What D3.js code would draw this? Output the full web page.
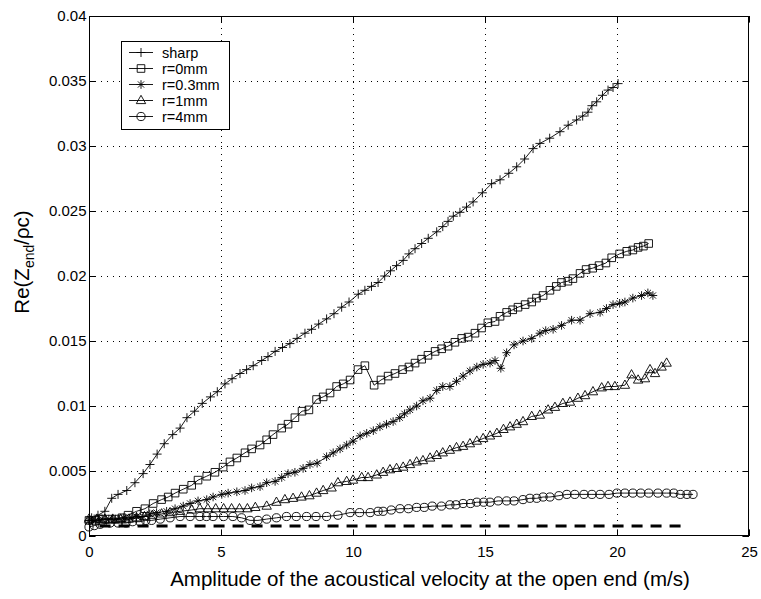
<!DOCTYPE html>
<html>
<head>
<meta charset="utf-8">
<script src="https://cdn.jsdelivr.net/npm/d3@7/dist/d3.min.js"></script>
<style>
html,body{margin:0;padding:0;background:#fff;}
svg{display:block;}
text{font-family:"Liberation Sans",Arial,Helvetica,sans-serif;fill:#000;}
</style>
</head>
<body>
<svg id="chart" width="761" height="599"></svg>
<script>
const xTicks = [0, 5, 10, 15, 20, 25];
const yTicks = [0, 0.005, 0.01, 0.015, 0.02, 0.025, 0.03, 0.035, 0.04];
const seriesNames = ["sharp", "r=0mm", "r=0.3mm", "r=1mm", "r=4mm"];
const seriesMarkers = ["plus", "square", "star", "triangle", "circle"];

const sharpX = [0.0,0.1,0.34,0.6,0.86,1.1,1.43,1.74,2.05,2.31,2.58,2.85,3.17,3.45,3.71,4.0,4.29,4.6,4.86,5.15,5.42,5.72,5.97,6.22,6.54,6.78,7.05,7.33,7.61,7.88,8.18,8.43,8.7,9.0,9.28,9.57,9.85,10.2,10.45,10.7,10.95,11.2,11.42,11.65,11.9,12.12,12.35,12.6,12.85,13.17,13.4,13.6,13.8,14.05,14.3,14.55,14.9,15.25,15.57,15.9,16.2,16.5,16.82,17.08,17.45,17.84,18.15,18.47,18.7,18.9,19.05,19.23,19.45,19.66,19.85,20.04];
const sharpY = [0.0012,0.0014,0.0016,0.0019,0.0029,0.0032,0.0035,0.0041,0.0048,0.0055,0.0063,0.0071,0.0078,0.0083,0.0091,0.0096,0.0102,0.0107,0.0111,0.0117,0.0121,0.0125,0.0128,0.0131,0.0135,0.0138,0.0142,0.0145,0.0148,0.0152,0.0156,0.0159,0.0163,0.0167,0.0171,0.0176,0.0180,0.0186,0.0189,0.0192,0.0195,0.0200,0.0204,0.0208,0.0212,0.0217,0.0221,0.0225,0.0229,0.0234,0.0238,0.0242,0.0246,0.0249,0.0253,0.0257,0.0264,0.0271,0.0274,0.0279,0.0284,0.0290,0.0298,0.0302,0.0306,0.0311,0.0316,0.0320,0.0323,0.0326,0.0331,0.0334,0.0339,0.0343,0.0345,0.0348];

const r0X = [0.0,0.25,0.5,0.75,1.0,1.25,1.48,1.8,2.12,2.43,2.75,3.0,3.26,3.57,3.89,4.13,4.46,4.77,5.08,5.34,5.6,5.91,6.16,6.48,6.73,6.97,7.3,7.54,7.8,8.07,8.33,8.62,8.87,9.13,9.38,9.63,9.89,10.19,10.45,10.8,11.06,11.33,11.59,11.88,12.12,12.35,12.6,12.84,13.11,13.36,13.6,13.86,14.12,14.36,14.62,14.87,15.11,15.38,15.57,15.82,16.05,16.25,16.52,16.77,16.95,17.2,17.46,17.7,17.9,18.14,18.33,18.6,18.83,19.08,19.32,19.58,19.8,20.1,20.37,20.6,20.8,21.0,21.2];
const r0Y = [0.0012,0.0012,0.0013,0.0013,0.0013,0.0014,0.0016,0.0019,0.0021,0.0025,0.0028,0.0030,0.0033,0.0036,0.0039,0.0043,0.0046,0.0049,0.0053,0.0057,0.0060,0.0064,0.0067,0.0070,0.0074,0.0078,0.0083,0.0086,0.0091,0.0096,0.0097,0.0105,0.0107,0.0110,0.0115,0.0117,0.0120,0.0128,0.0131,0.0116,0.0120,0.0123,0.0125,0.0128,0.0130,0.0133,0.0136,0.0139,0.0142,0.0144,0.0146,0.0149,0.0152,0.0153,0.0156,0.0160,0.0164,0.0165,0.0169,0.0172,0.0174,0.0176,0.0178,0.0180,0.0183,0.0185,0.0189,0.0192,0.0195,0.0196,0.0198,0.0202,0.0205,0.0206,0.0208,0.0210,0.0214,0.0217,0.0219,0.0220,0.0222,0.0223,0.0225];

const r03X = [0.0,0.25,0.5,0.75,1.0,1.3,1.55,1.8,2.05,2.3,2.56,2.94,3.26,3.57,3.83,4.13,4.46,4.7,5.03,5.27,5.6,5.91,6.16,6.48,6.73,7.05,7.3,7.54,7.8,8.11,8.37,8.64,9.0,9.25,9.51,9.76,10.0,10.27,10.52,10.77,11.02,11.27,11.52,11.77,11.95,12.16,12.41,12.65,12.92,13.17,13.4,13.67,13.92,14.17,14.43,14.69,14.93,15.19,15.38,15.6,15.82,16.1,16.44,16.77,17.08,17.3,17.58,17.9,18.28,18.6,18.98,19.36,19.6,19.85,20.1,20.3,20.6,20.93,21.17,21.36];
const r03Y = [0.0012,0.0012,0.0013,0.0013,0.0013,0.0014,0.0014,0.0015,0.0015,0.0017,0.0018,0.0019,0.0021,0.0023,0.0025,0.0027,0.0028,0.0030,0.0032,0.0033,0.0034,0.0035,0.0037,0.0038,0.0041,0.0042,0.0045,0.0048,0.0049,0.0052,0.0055,0.0056,0.0061,0.0064,0.0067,0.0070,0.0073,0.0077,0.0079,0.0081,0.0084,0.0086,0.0088,0.0091,0.0094,0.0097,0.0100,0.0104,0.0106,0.0112,0.0115,0.0115,0.0119,0.0123,0.0127,0.0130,0.0132,0.0133,0.0135,0.0129,0.0141,0.0147,0.0150,0.0152,0.0156,0.0158,0.0159,0.0162,0.0166,0.0166,0.0171,0.0172,0.0175,0.0178,0.0179,0.0180,0.0183,0.0185,0.0187,0.0185];

const r1X = [0.0,0.3,0.6,0.9,1.2,1.5,1.8,2.1,2.4,2.75,3.07,3.45,3.89,4.2,4.5,4.8,5.1,5.4,5.7,6.0,6.3,6.73,7.1,7.42,7.73,8.05,8.35,8.62,8.87,9.19,9.43,9.76,10.0,10.33,10.57,10.9,11.14,11.4,11.65,11.9,12.16,12.41,12.65,12.92,13.17,13.4,13.67,13.92,14.17,14.43,14.69,14.93,15.19,15.45,15.7,15.95,16.2,16.44,16.77,17.08,17.39,17.65,17.95,18.22,18.52,18.79,19.09,19.42,19.66,19.92,20.3,20.55,20.8,21.06,21.25,21.44,21.69,21.88];
const r1Y = [0.0013,0.0013,0.0013,0.0013,0.0013,0.0013,0.0014,0.0015,0.0016,0.0017,0.0018,0.0019,0.0020,0.0021,0.0021,0.0021,0.0021,0.0021,0.0021,0.0021,0.0022,0.0023,0.0026,0.0028,0.0029,0.0030,0.0031,0.0033,0.0035,0.0037,0.0041,0.0042,0.0043,0.0045,0.0045,0.0047,0.0049,0.0051,0.0052,0.0053,0.0055,0.0057,0.0058,0.0060,0.0062,0.0064,0.0066,0.0068,0.0069,0.0071,0.0073,0.0075,0.0077,0.0079,0.0082,0.0084,0.0086,0.0088,0.0092,0.0093,0.0097,0.0099,0.0102,0.0103,0.0106,0.0108,0.0111,0.0114,0.0115,0.0115,0.0116,0.0124,0.0120,0.0121,0.0128,0.0125,0.0130,0.0133];

const r4X = [0.0,0.2,0.42,0.8,1.1,1.4,1.65,1.93,2.15,2.37,2.7,3.07,3.45,3.83,4.2,4.45,4.7,5.1,5.45,5.78,6.1,6.4,6.73,7.1,7.48,7.85,8.24,8.6,9.0,9.43,9.89,10.25,10.65,10.95,11.14,11.45,11.78,12.1,12.41,12.7,13.0,13.35,13.67,13.9,14.17,14.45,14.69,14.95,15.19,15.5,15.82,16.1,16.44,16.7,16.96,17.2,17.46,17.8,18.1,18.4,18.75,19.05,19.36,19.7,20.0,20.3,20.6,20.9,21.2,21.55,21.88,22.15,22.4,22.65,22.88];
const r4Y = [0.0007,0.0008,0.0009,0.0010,0.0010,0.0010,0.0011,0.0011,0.0012,0.0012,0.0013,0.0014,0.0015,0.0015,0.0015,0.0015,0.0015,0.0015,0.0015,0.0014,0.0012,0.0012,0.0013,0.0014,0.0015,0.0015,0.0015,0.0015,0.0015,0.0016,0.0018,0.0018,0.0018,0.0019,0.0019,0.0020,0.0021,0.0021,0.0022,0.0022,0.0023,0.0023,0.0024,0.0024,0.0025,0.0025,0.0026,0.0026,0.0026,0.0027,0.0027,0.0027,0.0028,0.0029,0.0029,0.0030,0.0030,0.0031,0.0032,0.0032,0.0032,0.0032,0.0032,0.0032,0.0033,0.0033,0.0033,0.0033,0.0033,0.0033,0.0033,0.0033,0.0032,0.0032,0.0032];

const refX = [0.4, 22.6];
const refY = [0.00077, 0.00077];

const svg = d3.select("#chart");
const L = 89, R = 749, T = 16, B = 536;
const x = d3.scaleLinear().domain([0, 25]).range([L, R]);
const y = d3.scaleLinear().domain([0, 0.04]).range([B, T]);

// grid
const grid = svg.append("g").attr("stroke", "#000").attr("stroke-width", 1)
  .attr("stroke-dasharray", "1,5").attr("shape-rendering", "crispEdges");
xTicks.slice(1, -1).forEach(v => grid.append("line")
  .attr("x1", Math.round(x(v)) + 0.5).attr("x2", Math.round(x(v)) + 0.5).attr("y1", T).attr("y2", B));
yTicks.slice(1, -1).forEach(v => grid.append("line")
  .attr("y1", Math.round(y(v)) + 0.5).attr("y2", Math.round(y(v)) + 0.5).attr("x1", L).attr("x2", R));

// axes
const tl = 6.6;
const fmt = d => d === 0 ? "0" : String(+d.toFixed(3));
const gx = svg.append("g").attr("transform", `translate(0,${B})`)
  .call(d3.axisBottom(x).tickValues(xTicks).tickSize(-tl).tickPadding(10).tickFormat(fmt));
const gxt = svg.append("g").attr("transform", `translate(0,${T})`)
  .call(d3.axisTop(x).tickValues(xTicks).tickSize(-tl).tickFormat(""));
const gy = svg.append("g").attr("transform", `translate(${L},0)`)
  .call(d3.axisLeft(y).tickValues(yTicks).tickSize(-tl).tickPadding(2.5).tickFormat(fmt));
const gyr = svg.append("g").attr("transform", `translate(${R},0)`)
  .call(d3.axisRight(y).tickValues(yTicks).tickSize(-tl).tickFormat(""));
[gx, gxt, gy, gyr].forEach(g => {
  g.select(".domain").remove();
  g.selectAll("line").attr("stroke", "#000");
  g.selectAll("text").attr("font-size", 15).attr("font-family", '"Liberation Sans",Arial,sans-serif').attr("fill", "#000");
});
gx.selectAll("text").attr("dy", "0.71em");

svg.append("rect").attr("x", L + 0.5).attr("y", T + 0.5).attr("width", R - L - 1).attr("height", B - T - 1)
  .attr("fill", "none").attr("stroke", "#000").attr("stroke-width", 1);

// markers
function markerPath(type) {
  switch (type) {
    case "plus": return "M-4.5,0H4.5M0,-4.5V4.5";
    case "square": return "M-3.8,-3.8H3.8V3.8H-3.8Z";
    case "star": return "M-4.3,0H4.3M0,-4.3V4.3M-3.1,-3.1L3.1,3.1M-3.1,3.1L3.1,-3.1";
    case "triangle": return "M0,-5.2L4.7,3.1L-4.7,3.1Z";
    case "circle": return "M4.1,0A4.1,4.1 0 1,1 -4.1,0A4.1,4.1 0 1,1 4.1,0Z";
  }
}

const seriesData = [[sharpX, sharpY], [r0X, r0Y], [r03X, r03Y], [r1X, r1Y], [r4X, r4Y]];
const line = d3.line().x(d => x(d[0])).y(d => y(d[1]));

// reference dashed line
svg.append("path").datum(d3.zip(refX, refY)).attr("d", line)
  .attr("fill", "none").attr("stroke", "#000").attr("stroke-width", 3).attr("stroke-dasharray", "11,8");

seriesData.forEach(([xs, ys], i) => {
  const pts = d3.zip(xs, ys);
  const g = svg.append("g");
  g.append("path").datum(pts).attr("d", line).attr("fill", "none").attr("stroke", "#000").attr("stroke-width", 0.9);
  g.selectAll("path.m").data(pts).enter().append("path").attr("class", "m")
    .attr("transform", d => `translate(${x(d[0])},${y(d[1])})`)
    .attr("d", markerPath(seriesMarkers[i]))
    .attr("fill", "none").attr("stroke", "#000").attr("stroke-width", 0.9);
});

// legend
const lg = svg.append("g");
lg.append("rect").attr("x", 121.5).attr("y", 41.5).attr("width", 108).attr("height", 88)
  .attr("fill", "#fff").attr("stroke", "#000").attr("stroke-width", 1);
seriesNames.forEach((name, i) => {
  const yy = 52.5 + i * 16;
  lg.append("line").attr("x1", 129).attr("x2", 153).attr("y1", yy).attr("y2", yy).attr("stroke", "#000").attr("stroke-width", 0.9);
  lg.append("path").attr("transform", `translate(141,${yy})`).attr("d", markerPath(seriesMarkers[i]))
    .attr("fill", "none").attr("stroke", "#000").attr("stroke-width", 0.9);
  lg.append("text").attr("x", 162).attr("y", yy).attr("dy", "0.36em").attr("font-size", 14.5).text(name);
});

// axis labels
svg.append("text").attr("x", 430).attr("y", 586).attr("text-anchor", "middle")
  .attr("font-size", 20.5).text("Amplitude of the acoustical velocity at the open end (m/s)");
const yl = svg.append("text").attr("transform", `translate(29,262) rotate(-90)`)
  .attr("text-anchor", "middle").attr("font-size", 20.5);
yl.append("tspan").text("Re(Z");
yl.append("tspan").attr("font-size", 14).attr("dy", 5).text("end");
yl.append("tspan").attr("dy", -5).text("/ρc)");
</script>
</body>
</html>
